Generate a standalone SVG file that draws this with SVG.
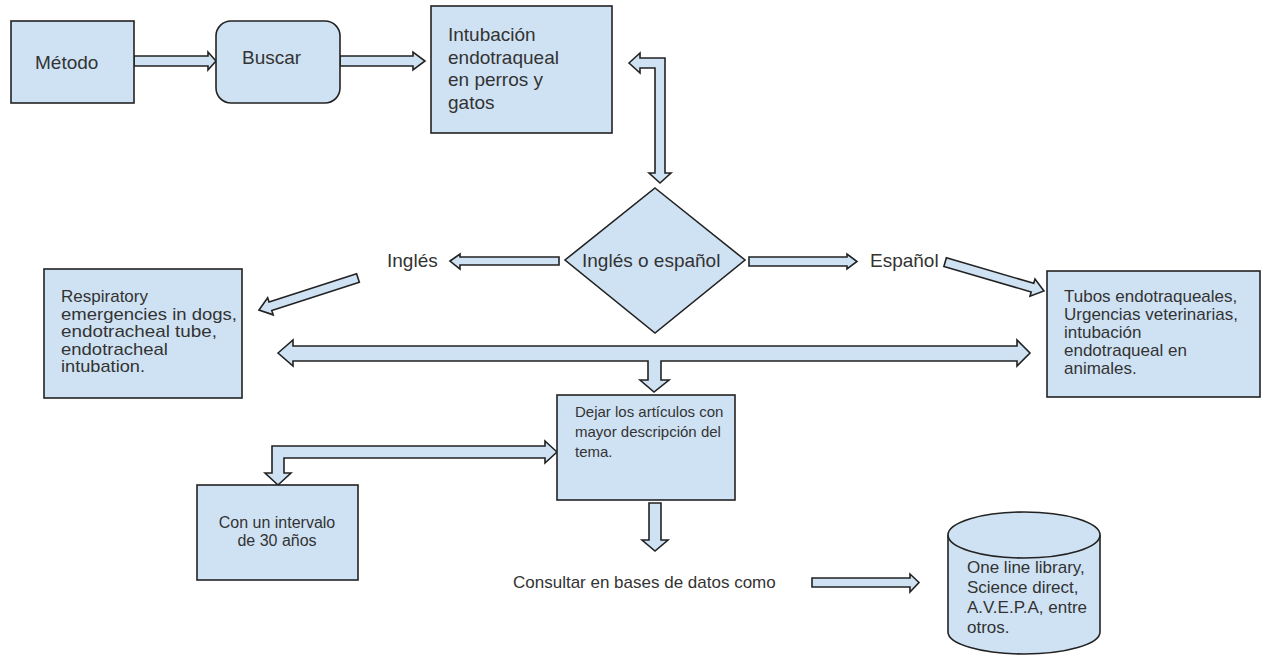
<svg xmlns="http://www.w3.org/2000/svg" width="1262" height="655" viewBox="0 0 1262 655">
<style>
.box{fill:#cfe2f3;stroke:#222;stroke-width:1.6}
.arr{fill:#cfe2f3;stroke:#222;stroke-width:1.6;stroke-linejoin:miter}
.t{font-family:"Liberation Sans",Arial,sans-serif;fill:#333}
.t19{font-size:19px}
.t17{font-size:17px}
.t16{font-size:16px}
.t15{font-size:15px}
</style>
<rect width="1262" height="655" fill="#ffffff"/>
<g id="connectors">
<polygon class="arr" points="134,56 208,56 208,52 216,61 208,70 208,66 134,66"/>
<polygon class="arr" points="340,56 413,56 413,52 425,61 413,70 413,66 340,66"/>
<polygon class="arr" points="629,63 640,53 640,58 665,58 665,173 671,173 660,183 649,173 655,173 655,68 640,68 640,73"/>
<polygon class="arr" points="450,261 460,254 460,257 559,257 559,265 460,265 460,269"/>
<polygon class="arr" points="749,257 847,257 847,254 857,261.5 847,269 847,266 749,266"/>
<polygon class="arr" transform="translate(259,310) rotate(-17.9)" points="0,0 12,-9 12,-4.5 104,-4.5 104,4.5 12,4.5 12,9"/>
<polygon class="arr" transform="translate(1044,291) rotate(16.3)" points="0,0 -12,-9 -12,-4.5 -103,-4.5 -103,4.5 -12,4.5 -12,9"/>
<polygon class="arr" points="278,353 293,340 293,346 1017,346 1017,340 1030,353 1017,366 1017,361 661,361 661,380 669,380 654,392 640,380 648,380 648,361 293,361 293,366"/>
<polygon class="arr" points="557,452 545,441 545,446 272,446 272,473 265,473 278,485 291,473 284,473 284,458 545,458 545,463"/>
<polygon class="arr" points="649,503 661,503 661,540 668,540 655,551 642,540 649,540"/>
<polygon class="arr" points="812,578 910,578 910,574 919,582.5 910,592 910,587 812,587"/>
</g>
<g id="metodo">
<rect class="box" x="11" y="21" width="123" height="82"/>
<text class="t t19" x="35" y="69">Método</text>
</g>
<g id="buscar">
<rect class="box" x="216" y="21" width="124" height="82" rx="15" ry="15"/>
<text class="t t19" x="242" y="64">Buscar</text>
</g>
<g id="intubacion">
<rect class="box" x="431" y="6" width="181" height="127"/>
<text class="t t19"><tspan x="448" y="41">Intubación</tspan><tspan x="448" y="64">endotraqueal</tspan><tspan x="448" y="86">en perros y</tspan><tspan x="448" y="109">gatos</tspan></text>
</g>
<g id="decision">
<polygon class="box" points="655,188 745,260 655,333 565,260"/>
<text class="t t19" x="582" y="267">Inglés o español</text>
</g>
<g id="ingles">
<text class="t t19" x="387" y="267">Inglés</text>
</g>
<g id="espanol">
<text class="t t19" x="870" y="267">Español</text>
</g>
<g id="respiratory">
<rect class="box" x="44" y="269" width="198" height="129"/>
<text class="t t17"><tspan x="61" y="302" textLength="87" lengthAdjust="spacingAndGlyphs">Respiratory</tspan><tspan x="61" y="319.5" textLength="176" lengthAdjust="spacingAndGlyphs">emergencies in dogs,</tspan><tspan x="61" y="337" textLength="156" lengthAdjust="spacingAndGlyphs">endotracheal tube,</tspan><tspan x="61" y="354.5" textLength="107" lengthAdjust="spacingAndGlyphs">endotracheal</tspan><tspan x="61" y="372" textLength="84" lengthAdjust="spacingAndGlyphs">intubation.</tspan></text>
</g>
<g id="tubos">
<rect class="box" x="1047" y="271" width="213" height="126"/>
<text class="t t17"><tspan x="1064" y="302">Tubos endotraqueales,</tspan><tspan x="1064" y="320">Urgencias veterinarias,</tspan><tspan x="1064" y="338">intubación</tspan><tspan x="1064" y="356">endotraqueal en</tspan><tspan x="1064" y="374">animales.</tspan></text>
</g>
<g id="dejar">
<rect class="box" x="557" y="395" width="178" height="105"/>
<text class="t t15"><tspan x="575" y="417">Dejar los artículos con</tspan><tspan x="575" y="437">mayor descripción del</tspan><tspan x="575" y="457">tema.</tspan></text>
</g>
<g id="intervalo">
<rect class="box" x="197" y="485" width="161" height="95"/>
<text class="t t16" text-anchor="middle"><tspan x="277" y="528">Con un intervalo</tspan><tspan x="277" y="546">de 30 años</tspan></text>
</g>
<g id="consultar">
<text class="t t17" x="513" y="588">Consultar en bases de datos como</text>
</g>
<g id="bases">
<path class="box" d="M948,535 L948,632 A76,22 0 0 0 1100,632 L1100,535 A76,23 0 0 0 948,535 Z"/>
<path class="box" d="M948,535 A76,23 0 0 0 1100,535" fill="none"/>
<text class="t t17"><tspan x="967" y="573">One line library,</tspan><tspan x="967" y="593">Science direct,</tspan><tspan x="967" y="613">A.V.E.P.A, entre</tspan><tspan x="967" y="633">otros.</tspan></text>
</g>
</svg>
